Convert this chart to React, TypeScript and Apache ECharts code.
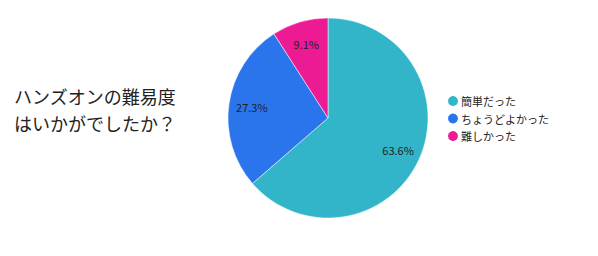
import React, { useEffect, useRef } from "react";
import * as echarts from "echarts";

const categories = ["簡単だった", "ちょうどよかった", "難しかった"];
const counts = [7, 3, 1];
const colors = ["#33b5c9", "#2a75ec", "#ec1b94"];
const titleLines = ["ハンズオンの難易度", "はいかがでしたか？"];

export default function App() {
  const ref = useRef<HTMLDivElement>(null);
  useEffect(() => {
    if (!ref.current) return;
    const chart = echarts.init(ref.current, undefined, { renderer: "svg" });
    const data = categories.map((name, i) => ({ name, value: counts[i] }));
    const total = counts.reduce((a, b) => a + b, 0);
    const font = "'Noto Sans CJK JP', 'Noto Sans', sans-serif";
    chart.setOption({
      animation: false,
      color: colors,
      title: {
        text: titleLines.join("\n"),
        left: 9,
        top: 77,
        textStyle: {
          fontSize: 18,
          lineHeight: 27,
          fontWeight: "normal",
          color: "#222",
          fontFamily: font,
        },
      },
      legend: {
        orient: "vertical",
        left: 441,
        top: 89,
        icon: "circle",
        itemWidth: 12,
        itemHeight: 12,
        itemGap: 3.5,
        data: categories,
        textStyle: { fontSize: 11, color: "#222", fontFamily: font, padding: [0, 0, 0, -3] },
      },
      series: [
        {
          type: "pie",
          center: [328, 118],
          radius: 100,
          startAngle: 90,
          clockwise: true,
          data,
          label: { show: false },
          labelLine: { show: false },
          itemStyle: { borderColor: "#fff", borderWidth: 0.5 },
        },
        {
          type: "pie",
          center: [328, 118],
          radius: [48, 100],
          startAngle: 90,
          clockwise: true,
          silent: true,
          data,
          itemStyle: { color: "transparent" },
          label: {
            show: true,
            position: "inside",
            fontSize: 11,
            color: "#222",
            fontFamily: font,
            formatter: (p: any) => ((p.value / total) * 100).toFixed(1) + "%",
          },
          labelLine: { show: false },
        },
      ],
    });
    return () => chart.dispose();
  }, []);
  return (
    <div
      ref={ref}
      style={{ position: "absolute", left: 0, top: 0, width: 598, height: 256 }}
    />
  );
}
